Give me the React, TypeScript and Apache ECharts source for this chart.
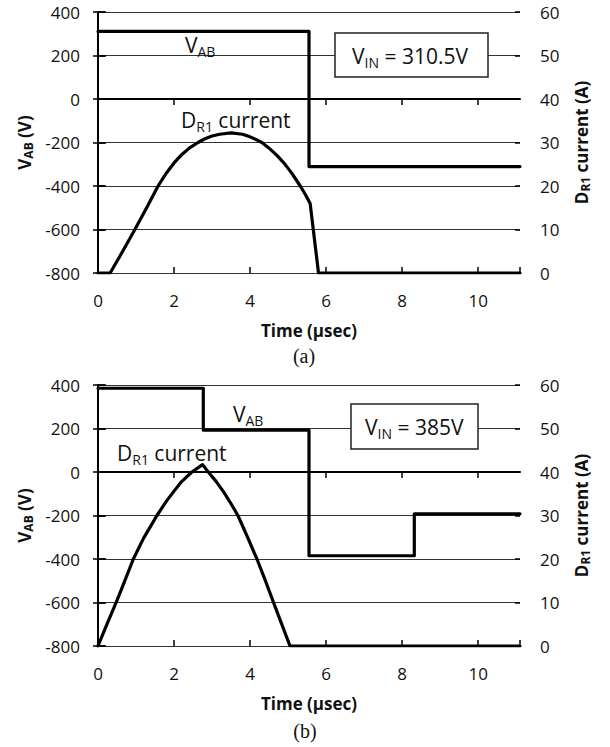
import React, { useEffect, useRef } from "react";
import * as echarts from "echarts";

// ---- Data ----
const xTickLabels = [0, 2, 4, 6, 8, 10];
const vTicks = [-800, -600, -400, -200, 0, 200, 400];
const aTicks = [0, 10, 20, 30, 40, 50, 60];

// (a) V_IN = 310.5 V
const timeVabA = [0, 5.55, 5.55, 11.1];
const vabA = [310.5, 310.5, -310.5, -310.5];
const timeCurA = [
  0, 0.32, 0.65, 0.97, 1.28, 1.58, 1.8, 2.0, 2.2, 2.4, 2.63, 2.8, 3.0, 3.2, 3.5,
  3.8, 4.0, 4.2, 4.31, 4.5, 4.7, 4.9, 5.1, 5.32, 5.45, 5.58, 5.8, 11.1,
];
const curA = [
  0, 0, 5, 10, 15, 20, 23, 25.3, 27.2, 28.7, 30, 30.8, 31.5, 31.9, 32.2,
  31.9, 31.3, 30.5, 30, 28.7, 27.1, 25.2, 22.9, 20, 18.1, 16, 0, 0,
];

// (b) V_IN = 385 V
const timeVabB = [0, 2.77, 2.77, 5.55, 5.55, 8.32, 8.32, 11.1];
const vabB = [385, 385, 192.5, 192.5, -385, -385, -192.5, -192.5];
const timeCurB = [
  0, 0.25, 0.5, 0.72, 0.93, 1.2, 1.55, 1.8, 2.0, 2.2, 2.47, 2.75,
  2.9, 3.1, 3.3, 3.5, 3.68, 3.93, 4.18, 4.4, 4.6, 4.83, 5.05, 11.1,
];
const curB = [
  0, 5.3, 10.5, 15.3, 20, 24.8, 30, 33.3, 35.6, 37.8, 40, 41.7,
  40, 37.9, 35.5, 32.7, 30, 25.1, 20, 15.1, 10.4, 5.1, 0, 0,
];

const FONT = "'Open Sans', 'Noto Sans', sans-serif";
const INK = "#111";

const zip = (xs: number[], ys: number[]) => xs.map((x, i) => [x, ys[i]]);

export default function App() {
  const ref = useRef<HTMLDivElement>(null);

  useEffect(() => {
    if (!ref.current) return;
    const chart = echarts.init(ref.current, null, { renderer: "svg" });

    const xMin = xTickLabels[0];
    const xMax = 11.1;

    const grids = [
      { left: 98, top: 12, width: 422, height: 261 },
      { left: 98, top: 385, width: 422, height: 261 },
    ];

    const xMain = (g: number) => ({
      type: "value",
      gridIndex: g,
      position: "bottom",
      min: xMin,
      max: xMax,
      interval: 2,
      name: "Time (µsec)",
      nameLocation: "middle",
      nameGap: 49,
      nameTextStyle: { fontFamily: FONT, fontSize: 17, fontWeight: "bold", color: INK },
      axisLine: { show: true, lineStyle: { color: "#000", width: 2 } },
      axisTick: { show: true, inside: false, length: 6, lineStyle: { color: "#000", width: 1.5 } },
      axisLabel: { show: true, margin: 19, fontFamily: FONT, fontSize: 17, color: INK, showMaxLabel: false },
      splitLine: { show: false },
    });
    const xDup = (g: number) => ({
      type: "value",
      gridIndex: g,
      position: "bottom",
      min: xMin,
      max: xMax,
      interval: 2,
      axisLine: { show: false },
      axisTick: { show: true, inside: true, length: 6, lineStyle: { color: "#000", width: 1.5 } },
      axisLabel: { show: false },
      splitLine: { show: false },
    });

    const leftName = "{m|V}{s|AB}{m| (V)}";
    const rightName = "{m|D}{s|R1}{m| current (A)}";
    const nameRich = {
      m: { fontFamily: FONT, fontSize: 17, fontWeight: "bold", color: INK, lineHeight: 20 },
      s: { fontFamily: FONT, fontSize: 12, fontWeight: "bold", color: INK, lineHeight: 16, verticalAlign: "bottom" },
    };

    const yLeft = (g: number) => ({
      type: "value",
      gridIndex: g,
      position: "left",
      min: vTicks[0],
      max: vTicks[vTicks.length - 1],
      interval: 200,
      name: leftName,
      nameLocation: "middle",
      nameRotate: 90,
      nameGap: 63,
      nameTextStyle: { rich: nameRich },
      axisLine: { show: true, lineStyle: { color: "#000", width: 2 } },
      axisTick: { show: true, inside: false, length: 5, lineStyle: { color: "#000", width: 1.5 } },
      axisLabel: { margin: 18, fontFamily: FONT, fontSize: 17, color: INK },
      splitLine: { show: true, lineStyle: { color: "#333", width: 1 } },
    });
    const yRight = (g: number) => ({
      type: "value",
      gridIndex: g,
      position: "right",
      min: aTicks[0],
      max: aTicks[aTicks.length - 1],
      interval: 10,
      name: rightName,
      nameLocation: "middle",
      nameRotate: 90,
      nameGap: 51,
      nameTextStyle: { rich: nameRich },
      axisLine: { show: true, lineStyle: { color: "#000", width: 2 } },
      axisTick: { show: true, inside: false, length: 7, lineStyle: { color: "#000", width: 1.5 } },
      axisLabel: { margin: 20, fontFamily: FONT, fontSize: 17, color: INK },
      splitLine: { show: false },
    });
    const yLeftDup = (g: number) => ({
      type: "value",
      gridIndex: g,
      position: "left",
      min: vTicks[0],
      max: vTicks[vTicks.length - 1],
      interval: 200,
      axisLine: { show: false },
      axisTick: { show: true, inside: true, length: 8, lineStyle: { color: "#000", width: 1.5 } },
      axisLabel: { show: false },
      splitLine: { show: false },
    });
    const yRightDup = (g: number) => ({
      type: "value",
      gridIndex: g,
      position: "right",
      min: aTicks[0],
      max: aTicks[aTicks.length - 1],
      interval: 10,
      axisLine: { show: false },
      axisTick: { show: true, inside: true, length: 5, lineStyle: { color: "#000", width: 1.5 } },
      axisLabel: { show: false },
      splitLine: { show: false },
    });

    const lineSeries = (xi: number, yi: number, data: number[][], name: string) => ({
      type: "line",
      name,
      xAxisIndex: xi,
      yAxisIndex: yi,
      data,
      showSymbol: false,
      smooth: false,
      lineStyle: { color: "#000", width: 3.2, join: "round", cap: "round" },
      itemStyle: { color: "#000" },
      z: 5,
    });

    const richLabel = {
      m: { fontFamily: FONT, fontSize: 21, fill: INK, lineHeight: 26 },
      s: { fontFamily: FONT, fontSize: 14, fill: INK, lineHeight: 20, verticalAlign: "bottom" },
    };
    const label = (x: number, y: number, text: string) => ({
      type: "text",
      x,
      y,
      z: 20,
      style: { text, rich: richLabel, align: "left", verticalAlign: "middle" },
    });
    const box = (x: number, y: number, w: number, h: number) => ({
      type: "rect",
      x,
      y,
      z: 15,
      shape: { x: 0, y: 0, width: w, height: h },
      style: { fill: "#fff", stroke: "#222", lineWidth: 1.5 },
    });
    const caption = (x: number, y: number, text: string) => ({
      type: "text",
      x,
      y,
      z: 20,
      style: {
        text,
        fontFamily: "'Liberation Serif', 'DejaVu Serif', serif",
        fontSize: 20,
        fill: INK,
        align: "center",
        verticalAlign: "middle",
      },
    });

    chart.setOption({
      animation: false,
      backgroundColor: "#fff",
      grid: grids,
      xAxis: [xMain(0), xDup(0), xMain(1), xDup(1)],
      yAxis: [yLeft(0), yRight(0), yLeftDup(0), yRightDup(0), yLeft(1), yRight(1), yLeftDup(1), yRightDup(1)],
      series: [
        lineSeries(0, 0, zip(timeVabA, vabA), "VAB (a)"),
        lineSeries(0, 1, zip(timeCurA, curA), "DR1 current (a)"),
        lineSeries(2, 4, zip(timeVabB, vabB), "VAB (b)"),
        lineSeries(2, 5, zip(timeCurB, curB), "DR1 current (b)"),
      ],
      graphic: [
        label(185, 45, "{m|V}{s|AB}"),
        label(181, 120, "{m|D}{s|R1}{m| current}"),
        box(335, 33, 153, 44),
        label(352, 56, "{m|V}{s|IN}{m| = 310.5V}"),
        caption(304, 356, "(a)"),
        label(233, 414, "{m|V}{s|AB}"),
        label(117, 453, "{m|D}{s|R1}{m| current}"),
        box(351, 404, 127, 45),
        label(365, 427, "{m|V}{s|IN}{m| = 385V}"),
        caption(305, 731, "(b)"),
      ],
    });

    return () => chart.dispose();
  }, []);

  return (
    <div
      ref={ref}
      style={{ position: "absolute", left: 0, top: 0, width: 610, height: 747, background: "#fff" }}
    />
  );
}
